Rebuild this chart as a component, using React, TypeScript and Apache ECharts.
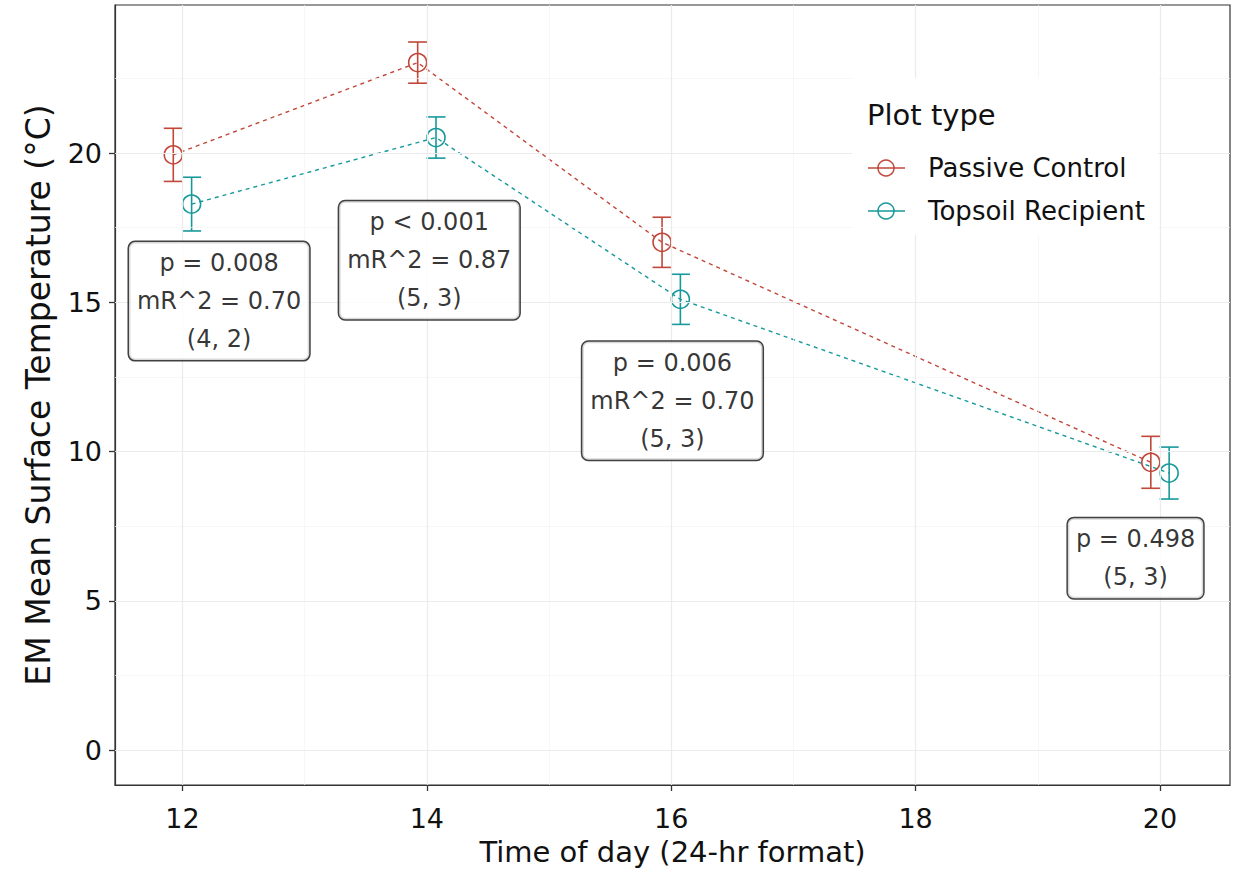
import React, { useEffect, useRef } from "react";
import * as echarts from "echarts";

// ---- data ----
const times = [12, 14, 16, 20];
const passiveMean = [19.94, 23.03, 17.01, 9.64];
const passiveSE = [0.89, 0.69, 0.84, 0.87];
const topsoilMean = [18.29, 20.52, 15.1, 9.28];
const topsoilSE = [0.9, 0.69, 0.84, 0.87];

const seriesNames = ["Passive Control", "Topsoil Recipient"];
const xTicks = [12, 14, 16, 18, 20];
const xMinor = [13, 15, 17, 19];
const yTicks = [0, 5, 10, 15, 20];
const yMinor = [2.5, 7.5, 12.5, 17.5, 22.5];

const annX = [12.3, 14.02, 16.01, 19.8];
const annY = [15.04, 16.41, 11.7, 6.43];
const annText = [
  ["p = 0.008", "mR^2 = 0.70", "(4, 2)"],
  ["p < 0.001", "mR^2 = 0.87", "(5, 3)"],
  ["p = 0.006", "mR^2 = 0.70", "(5, 3)"],
  ["p = 0.498", "(5, 3)"],
];

const RED = "#C0473A";
const TEAL = "#17999B";
const FONT = "DejaVu Sans";
const DODGE = 0.075;
const CAP = 0.078;

export default function App() {
  const ref = useRef<HTMLDivElement>(null);
  useEffect(() => {
    document.body.style.margin = "0";
    const chart = echarts.init(ref.current!, null, { renderer: "svg" });

    const mk = (means: number[], off: number) =>
      times.map((t, i) => [t + off, means[i]]);
    const mkErr = (means: number[], se: number[], off: number) =>
      times.map((t, i) => [t + off, means[i] - se[i], means[i] + se[i]]);

    const errSeries = (data: number[][], color: string) => ({
      type: "custom",
      z: 3,
      data,
      encode: { x: 0, y: [1, 2] },
      renderItem: (params: any, api: any) => {
        const x = api.value(0);
        const lo = api.coord([x, api.value(1)]);
        const hi = api.coord([x, api.value(2)]);
        const a = api.coord([x - CAP, api.value(1)]);
        const b = api.coord([x + CAP, api.value(1)]);
        const half = (b[0] - a[0]) / 2;
        const st = { stroke: color, lineWidth: 1.6 };
        return {
          type: "group",
          children: [
            { type: "line", shape: { x1: lo[0], y1: lo[1], x2: hi[0], y2: hi[1] }, style: st },
            { type: "line", shape: { x1: lo[0] - half, y1: lo[1], x2: lo[0] + half, y2: lo[1] }, style: st },
            { type: "line", shape: { x1: hi[0] - half, y1: hi[1], x2: hi[0] + half, y2: hi[1] }, style: st },
          ],
        };
      },
    });

    const lineSeries = (name: string, data: number[][], color: string) => ({
      type: "line",
      name,
      z: 4,
      data,
      symbol: "circle",
      symbolSize: 18,
      showSymbol: true,
      lineStyle: { color, width: 1.4, type: [4, 4] },
      itemStyle: { color: "rgba(255,255,255,0)", borderColor: color, borderWidth: 1.6 },
    });

    const major = { color: "#EBEBEB", width: 1.2, type: "solid" };
    const minor = { color: "#F3F3F3", width: 0.7, type: "solid" };

    const legendItems = seriesNames.map((n, i) => {
      const c = i === 0 ? RED : TEAL;
      const y = 168 + i * 43;
      return [
        { type: "line", z: 21, shape: { x1: 868, y1: y, x2: 905, y2: y }, style: { stroke: c, lineWidth: 1.4 } },
        { type: "circle", z: 22, shape: { cx: 886, cy: y, r: 8 }, style: { fill: "rgba(255,255,255,0)", stroke: c, lineWidth: 1.5 } },
        { type: "text", z: 22, x: 928, y, style: { text: n, font: `26px "${FONT}"`, fill: "#111", verticalAlign: "middle" } },
      ];
    }).flat();

    const axisTick = (vals: number[]) => ({ show: true, length: 6, inside: false, customValues: vals, lineStyle: { color: "#333", width: 1.3 } });

    chart.setOption({
      animation: false,
      backgroundColor: "#fff",
      grid: { left: 115, right: 3, top: 5, bottom: 90, show: true, borderColor: "#333", borderWidth: 1.2, backgroundColor: "#fff" },
      xAxis: {
        type: "value",
        min: 11.448,
        max: 20.573,
        name: "Time of day (24-hr format)",
        nameLocation: "middle",
        nameGap: 52,
        nameTextStyle: { fontSize: 29, fontFamily: FONT, color: "#111" },
        axisLine: { show: true, onZero: false, lineStyle: { color: "#333", width: 1.2 } },
        splitLine: { show: false },
        axisTick: axisTick(xTicks),
        axisLabel: { customValues: xTicks, fontSize: 27, fontFamily: FONT, color: "#111", margin: 20 },
      },
      yAxis: {
        type: "value",
        min: -1.17,
        max: 24.96,
        name: "EM Mean Surface Temperature (\u00B0C)",
        nameLocation: "middle",
        nameGap: 60,
        nameTextStyle: { fontSize: 33, fontFamily: FONT, color: "#111" },
        axisLine: { show: true, onZero: false, lineStyle: { color: "#333", width: 1.2 } },
        splitLine: { show: false },
        axisTick: axisTick(yTicks),
        axisLabel: { customValues: yTicks, fontSize: 27, fontFamily: FONT, color: "#111", margin: 13 },
      },
      series: [
        {
          type: "line",
          data: [],
          z: 1,
          silent: true,
          markLine: {
            silent: true,
            symbol: ["none", "none"],
            label: { show: false },
            animation: false,
            data: [
              ...xMinor.map((v) => ({ xAxis: v, lineStyle: minor })),
              ...yMinor.map((v) => ({ yAxis: v, lineStyle: minor })),
              ...xTicks.map((v) => ({ xAxis: v, lineStyle: major })),
              ...yTicks.map((v) => ({ yAxis: v, lineStyle: major })),
            ],
          },
        },
        lineSeries(seriesNames[0], mk(passiveMean, -DODGE), RED),
        lineSeries(seriesNames[1], mk(topsoilMean, DODGE), TEAL),
        errSeries(mkErr(passiveMean, passiveSE, -DODGE), RED),
        errSeries(mkErr(topsoilMean, topsoilSE, DODGE), TEAL),
        {
          type: "scatter",
          z: 6,
          symbolSize: 1,
          itemStyle: { color: "rgba(0,0,0,0)" },
          data: annX.map((x, i) => ({ value: [x, annY[i]], txt: annText[i].join("\n") })),
          label: {
            show: true,
            position: "inside",
            formatter: (p: any) => p.data.txt,
            fontSize: 24,
            fontFamily: FONT,
            lineHeight: 38,
            color: "#000",
            align: "center",
            backgroundColor: "#fff",
            borderColor: "#111",
            borderWidth: 1.5,
            borderRadius: 6,
            padding: [2, 8],
          },
        },
      ],
      graphic: [
        { type: "rect", z: 20, shape: { x: 852, y: 78, width: 306, height: 157 }, style: { fill: "#fff" } },
        { type: "text", z: 21, x: 867, y: 115, style: { text: "Plot type", font: `29px "${FONT}"`, fill: "#111", verticalAlign: "middle" } },
        ...legendItems,
      ],
    });
    return () => chart.dispose();
  }, []);
  return <div ref={ref} style={{ position: "absolute", left: 0, top: 0, width: 1233, height: 875 }} />;
}
